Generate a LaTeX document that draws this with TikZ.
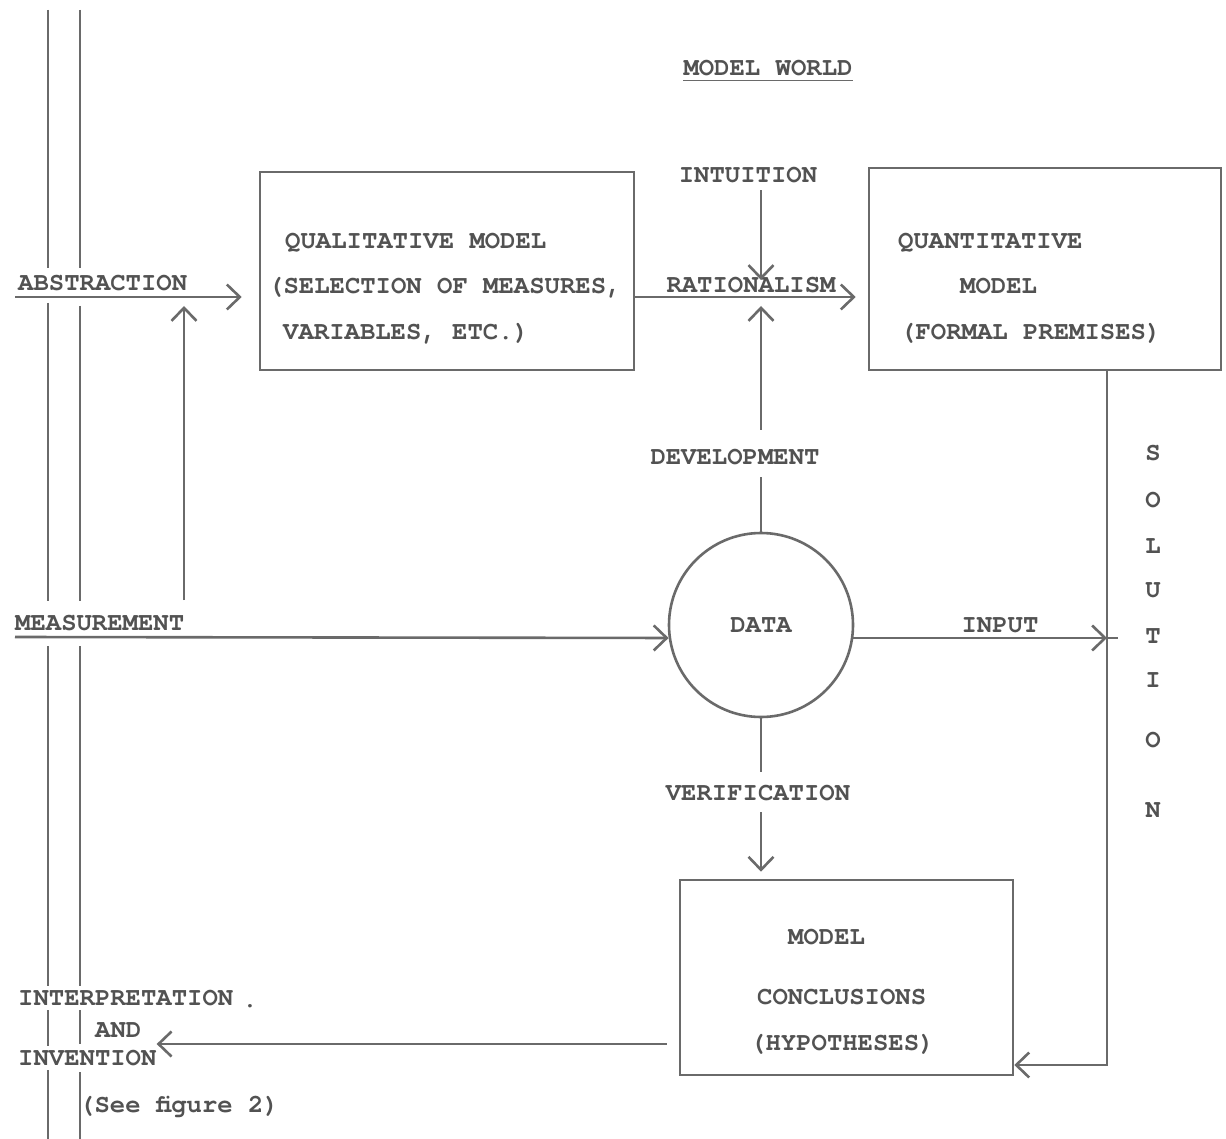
\documentclass[tikz,border=0pt]{standalone}
\usepackage{fontspec}
\setmonofont{TeX Gyre Cursor}
\usetikzlibrary{arrows.meta}
\definecolor{ink}{HTML}{525252}
\definecolor{pen}{HTML}{6A6A6A}
\begin{document}
\begin{tikzpicture}[x=1pt,y=-1pt,
  lbl/.style={font=\ttfamily\bfseries\fontsize{25.6}{30}\selectfont, text=ink, inner sep=0pt,
              text height=14.5pt, text depth=0pt},
  conn/.style={draw=pen, line width=2.6pt},
  arr/.style={conn, -{Straight Barb[length=13pt,width=25pt,line width=2.6pt]}},
  box/.style={draw=pen, line width=2.6pt, inner sep=0pt},
]
\useasboundingbox (0,0) rectangle (1226,1139);
\fill[white] (0,0) rectangle (1226,1139);

% double rule at the left edge, broken where the labels cross it
\foreach \a/\b in {10/268, 303/601, 646/986, 1010/1046, 1070/1139}
  \draw[conn] (48,\a) -- (48,\b);
\foreach \a/\b in {10/268, 306/601, 646/986, 1010/1044, 1072/1139}
  \draw[conn] (80,\a) -- (80,\b);

% heading
\node[lbl] (mw) at (768,68) {MODEL WORLD};
\draw[pen, line width=1.8pt] ([yshift=-5pt]mw.south west) -- ([yshift=-5pt]mw.south east);

% boxes and the data circle
\node[box, minimum width=374pt, minimum height=198pt] (qual) at (447,271) {};
\node[box, minimum width=352pt, minimum height=202pt] (quant) at (1045,269) {};
\node[box, minimum width=333pt, minimum height=195pt] (concl) at (846.5,977.5) {};
\node[lbl, circle, draw=pen, line width=2.6pt, minimum size=184pt] (data) at (761,625) {DATA};

% box texts
\node[lbl, anchor=west] (q1) at (285,241) {QUALITATIVE MODEL};
\node[lbl, anchor=west] (q2) at (268,286) {(SELECTION OF MEASURES,};
\node[lbl, anchor=west] (q3) at (283,332) {VARIABLES, ETC.)};
\node[lbl, anchor=west] (n1) at (898,241) {QUANTITATIVE};
\node[lbl, anchor=west] (n2) at (960,286) {MODEL};
\node[lbl, anchor=west] (n3) at (900,332) {(FORMAL PREMISES)};
\node[lbl, anchor=west] (c1) at (788,937) {MODEL};
\node[lbl, anchor=west] (c2) at (757,997) {CONCLUSIONS};
\node[lbl, anchor=west] (c3) at (750,1043) {(HYPOTHESES)};

% side labels
\node[lbl, anchor=west] (abs) at (18,283) {ABSTRACTION};
\node[lbl, anchor=west] (meas) at (15,623) {MEASUREMENT};
\node[lbl, anchor=west] (interp) at (18,998) {INTERPRETATION};
\node[lbl, anchor=west] (and) at (95,1030) {AND};
\node[lbl, anchor=west] (inv) at (18,1058) {INVENTION};
\node[lbl, anchor=west] (see) at (79,1105) {(See figure 2)};
\node[lbl] (dot) at (250,1000) {.};

% labels on the connectors
\node[lbl] (int) at (748,175) {INTUITION};
\node[lbl] (rat) at (751,285) {RATIONALISM};
\node[lbl] (dev) at (735,457) {DEVELOPMENT};
\node[lbl] (ver) at (758,793) {VERIFICATION};
\node[lbl] (inp) at (1000,625) {INPUT};
\foreach \l/\y [count=\i] in {S/453,O/500,L/546,U/590,T/636,I/680,O/740,N/810}
  \node[lbl] (sol\i) at (1153,\y) {\l};

% reference points for the connectors
\coordinate (absL) at (15,297);
\coordinate (measL) at (15,637);
\coordinate (vx) at (184,0);
\coordinate (solX) at (1107,0);
\coordinate (solBot) at (1107,1065);
\coordinate (outY) at (0,1044);

% connectors
\draw[arr, shorten >=17pt] (absL) -- (qual.west |- absL);
\draw[arr, shorten >=12pt] (qual.east |- absL) -- (quant.west |- absL);
\draw[arr, shorten <=37pt, shorten >=9pt] (vx |- measL) -- (vx |- absL);
\draw[arr] (measL) -- (data.188);
\draw[arr, shorten <=8pt, shorten >=17pt] (int.south -| data.north) -- (data.north |- absL);
\draw[arr, shorten <=20pt, shorten >=9pt] (dev.north -| data.north) -- (data.north |- absL);
\draw[conn, shorten <=13pt] (dev.south -| data.north) -- (data.north);
\draw[conn, shorten >=14pt] (data.south) -- (data.south |- ver.north);
\draw[arr, shorten <=12pt, shorten >=7pt] (data.south |- ver.south) -- (data.south |- concl.north);
\draw[arr] (data.352) -- (data.352 -| solX);
\draw[conn] (data.352 -| solX) -- ++(11,0);
\draw[arr] (quant.south -| solX) -- (solBot) -- (concl.east |- solBot);
\draw[arr, shorten <=12pt] (concl.west |- outY) -- (inv.east |- outY);
\end{tikzpicture}
\end{document}
